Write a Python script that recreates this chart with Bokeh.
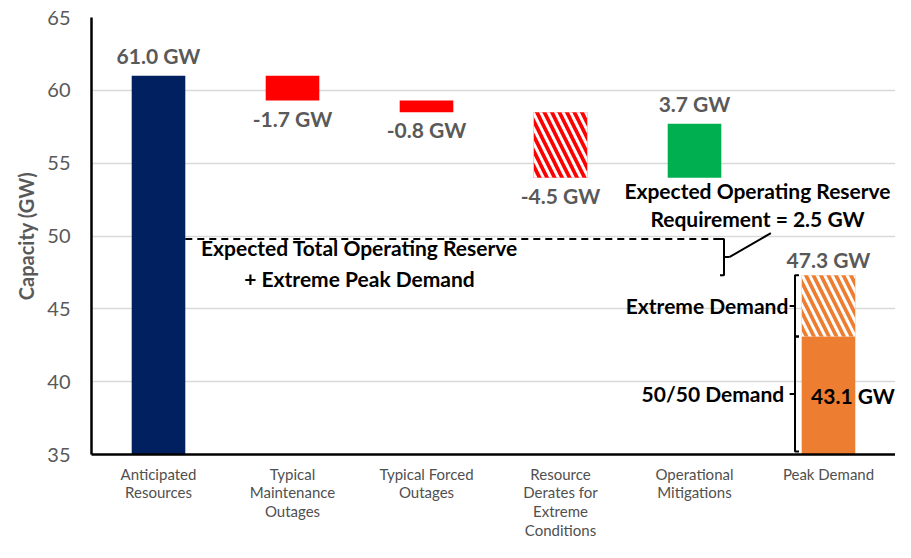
from bokeh.plotting import figure
from bokeh.models import Range1d, FixedTicker
from bokeh.embed import file_html
from bokeh.resources import INLINE
from bokeh.core.properties import value

# ---------------- data ----------------
categories = ["Anticipated\nResources", "Typical\nMaintenance\nOutages", "Typical Forced\nOutages",
              "Resource\nDerates for\nExtreme\nConditions", "Operational\nMitigations", "Peak Demand"]
changes = [61.0, -1.7, -0.8, -4.5, 3.7]          # GW, waterfall steps
change_labels = ["61.0 GW", "-1.7 GW", "-0.8 GW", "-4.5 GW", "3.7 GW"]
peak_5050 = 43.1
peak_extreme = 47.3
reserve_req = 2.5
y_ticks = [35, 40, 45, 50, 55, 60, 65]

# ---------------- styles ----------------
FONT = value("Lato")
GREY = "#595959"
bar_colors = ["#002060", "#FF0000", "#FF0000", "#FF0000", "#00B050"]
hatched = [False, False, False, True, False]
ORANGE = "#ED7D31"
LBL = "21px"

xs = [i + 0.5 for i in range(len(categories))]

# waterfall geometry
bottoms, tops = [], []
level = 0.0
for i, c in enumerate(changes):
    if i == 0:
        bottoms.append(0.0); tops.append(c); level = c
    else:
        new = level + c
        bottoms.append(min(level, new)); tops.append(max(level, new)); level = new

p = figure(width=895, height=542, x_range=Range1d(0, 6), y_range=Range1d(35, 65),
           output_backend="svg", toolbar_location=None,
           min_border_left=91, min_border_right=0, min_border_top=17, min_border_bottom=87)
p.outline_line_color = None
p.xgrid.visible = False
p.ygrid.grid_line_color = "#D9D9D9"
p.ygrid.grid_line_width = 1.5
p.ygrid.ticker = FixedTicker(ticks=y_ticks)

p.yaxis.ticker = FixedTicker(ticks=y_ticks)
p.yaxis.axis_line_width = 2.5
p.yaxis.axis_line_color = "black"
p.yaxis.major_tick_line_color = None
p.yaxis.minor_tick_line_color = None
p.yaxis.major_label_text_font = "Lato"
p.yaxis.major_label_text_font_size = "20px"
p.yaxis.major_label_text_color = GREY
p.yaxis.major_label_standoff = 15
p.yaxis.axis_label = "Capacity (GW)"
p.yaxis.axis_label_text_font = "Lato"
p.yaxis.axis_label_text_font_style = "bold"
p.yaxis.axis_label_text_font_size = "20px"
p.yaxis.axis_label_text_color = GREY
p.yaxis.axis_label_standoff = 6

p.xaxis.ticker = FixedTicker(ticks=xs)
p.xaxis.major_label_overrides = {x: c for x, c in zip(xs, categories)}
p.xaxis.axis_line_width = 2.5
p.xaxis.axis_line_color = "black"
p.xaxis.major_tick_line_color = None
p.xaxis.minor_tick_line_color = None
p.xaxis.major_label_text_font = "Lato"
p.xaxis.major_label_text_font_size = "15px"
p.xaxis.major_label_text_color = "#505050"
p.xaxis.major_label_text_line_height = 1.05
p.xaxis.major_label_standoff = 4

W = 0.4
HATCH = dict(hatch_pattern="left_diagonal_line", hatch_color="white", hatch_weight=3, hatch_scale=15)
# waterfall bars
for i in range(len(changes)):
    if hatched[i]:
        p.vbar(x=[xs[i]], top=[tops[i]], bottom=[bottoms[i]], width=W, fill_color=bar_colors[i],
               line_color=None, **HATCH)
    else:
        p.vbar(x=[xs[i]], top=[tops[i]], bottom=[bottoms[i]], width=W, fill_color=bar_colors[i],
               line_color=None)

# peak demand bar
p.vbar(x=[xs[5]], top=[peak_5050], bottom=[0], width=W, fill_color=ORANGE, line_color=None)
p.vbar(x=[xs[5]], top=[peak_extreme], bottom=[peak_5050], width=W, fill_color=ORANGE,
       line_color=None, **HATCH)

# value labels
for i in range(len(changes)):
    if changes[i] >= 0:
        p.text(x=[xs[i]], y=[tops[i]], text=[change_labels[i]], text_align="center",
               text_baseline="bottom", y_offset=-8, text_font=FONT, text_font_style="bold",
               text_font_size=LBL, text_color=GREY)
    else:
        p.text(x=[xs[i]], y=[bottoms[i]], text=[change_labels[i]], text_align="center",
               text_baseline="top", y_offset=5, text_font=FONT, text_font_style="bold",
               text_font_size=LBL, text_color=GREY)
p.text(x=[xs[5]], y=[peak_extreme], text=["%.1f GW" % peak_extreme], text_align="center",
       text_baseline="bottom", y_offset=-3, text_font=FONT, text_font_style="bold",
       text_font_size=LBL, text_color=GREY)
p.text(x=[xs[5] - 0.13], y=[(35 + peak_5050) / 2], text=["%.1f GW" % peak_5050], text_align="left",
       text_baseline="middle", text_font=FONT, text_font_style="bold",
       text_font_size=LBL, text_color="black")

# reserve line & brace
reserve_level = peak_extreme + reserve_req
bx = 4.72
p.line(x=[xs[0] + W / 2, bx], y=[reserve_level, reserve_level], line_color="black",
       line_width=2, line_dash="7 5")
mid = (reserve_level + peak_extreme) / 2
p.line(x=[bx - 0.03, bx, bx, bx - 0.03], y=[reserve_level, reserve_level, peak_extreme, peak_extreme],
       line_color="black", line_width=2)
p.line(x=[bx, bx + 0.04], y=[mid, mid], line_color="black", line_width=2)
p.line(x=[bx + 0.04, 5.07], y=[mid, reserve_level + 0.4], line_color="black", line_width=2)

p.text(x=[4.97, 4.97], y=[53.15, 51.2], text=["Expected Operating Reserve", "Requirement = 2.5 GW"],
       text_align="center", text_baseline="middle", text_font=FONT, text_font_style="bold",
       text_font_size=LBL, text_color="black")
p.text(x=[2.0, 2.0], y=[49.18, 47.1], text=["Expected Total Operating Reserve", "+ Extreme Peak Demand"],
       text_align="center", text_baseline="middle", text_font=FONT, text_font_style="bold",
       text_font_size=LBL, text_color="black")

# peak demand braces
px = 5.25
for lo, hi in [(peak_5050, peak_extreme), (35.2, peak_5050)]:
    p.line(x=[px + 0.03, px, px, px + 0.03], y=[hi, hi, lo, lo], line_color="black", line_width=2)
    m = (lo + hi) / 2
    p.line(x=[px, px - 0.04], y=[m, m], line_color="black", line_width=2)
p.text(x=[5.2, 5.17], y=[(peak_5050 + peak_extreme) / 2, 39.2], text=["Extreme Demand", "50/50 Demand"],
       text_align="right", text_baseline="middle", text_font=FONT, text_font_style="bold",
       text_font_size=LBL, text_color="black")

open("out.html", "w").write(file_html(p, INLINE))
